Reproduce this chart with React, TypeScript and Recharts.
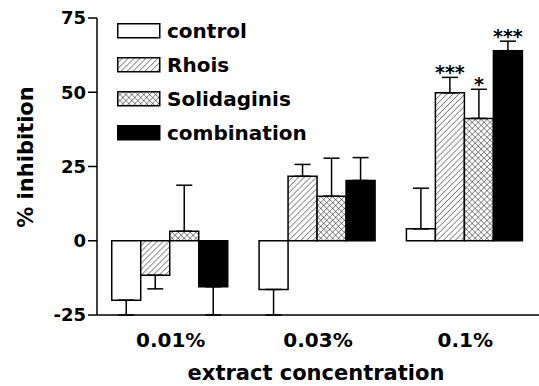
import React from "react";
import {
  BarChart,
  Bar,
  XAxis,
  YAxis,
  ErrorBar,
  LabelList,
  Label,
} from "recharts";

const categories = ["0.01%", "0.03%", "0.1%"];
const seriesNames = ["control", "Rhois", "Solidaginis", "combination"];

const control = [-20, -16.4, 4];
const controlErr = [5, 8.6, 13.7];
const rhois = [-11.6, 21.7, 49.8];
const rhoisErr = [4.6, 4, 5.2];
const solid = [3.2, 15, 41.2];
const solidErr = [15.5, 12.8, 9.8];
const combo = [-15.5, 20.3, 64];
const comboErr = [9.5, 7.7, 3.2];

const rhoisStars = ["", "", "***"];
const solidStars = ["", "", "*"];
const comboStars = ["", "", "***"];

const yTicks = [-25, 0, 25, 50, 75];

const FONT = "'DejaVu Sans', sans-serif";

// error bars only go away from zero
const oneSided = (v: number, e: number) => (v < 0 ? [e, 0] : [0, e]);

const data = categories.map((cat, i) => ({
  cat,
  control: control[i],
  controlErr: oneSided(control[i], controlErr[i]),
  rhois: rhois[i],
  rhoisErr: oneSided(rhois[i], rhoisErr[i]),
  rhoisStar: rhoisStars[i],
  solid: solid[i],
  solidErr: oneSided(solid[i], solidErr[i]),
  solidStar: solidStars[i],
  combo: combo[i],
  comboErr: oneSided(combo[i], comboErr[i]),
  comboStar: comboStars[i],
}));

const Patterns = ({ prefix }: { prefix: string }) => (
  <defs>
    <pattern
      id={`${prefix}-hatch`}
      patternUnits="userSpaceOnUse"
      width={4.2}
      height={10}
      patternTransform="rotate(45)"
    >
      <rect width={4.2} height={10} fill="#fff" />
      <line x1={0} y1={0} x2={0} y2={10} stroke="#222" strokeWidth={1} />
    </pattern>
    <pattern
      id={`${prefix}-cross`}
      patternUnits="userSpaceOnUse"
      width={4.2}
      height={4.2}
      patternTransform="rotate(45)"
    >
      <rect width={4.2} height={4.2} fill="#fff" />
      <line x1={0} y1={0} x2={0} y2={4.2} stroke="#222" strokeWidth={0.9} />
      <line x1={0} y1={0} x2={4.2} y2={0} stroke="#222" strokeWidth={0.9} />
    </pattern>
  </defs>
);

const fills = (prefix: string) => [
  "#fff",
  `url(#${prefix}-hatch)`,
  `url(#${prefix}-cross)`,
  "#000",
];

const makeStar = (values: number[], errs: number[]) => (props: any) => {
  const { x, y, width, height, value, index } = props;
  if (!value) return null;
  const v = values[index];
  const errPx = (errs[index] * height) / v;
  return (
    <text
      x={x + width / 2}
      y={y - errPx + 2}
      textAnchor="middle"
      fontFamily={FONT}
      fontWeight="bold"
      fontSize={19}
      fill="#000"
    >
      {value}
    </text>
  );
};

const XTick = (props: any) => {
  const { x, y, payload } = props;
  return (
    <text
      x={x}
      y={y + 24}
      textAnchor="middle"
      fontFamily={FONT}
      fontWeight="bold"
      fontSize={20}
      fill="#000"
    >
      {payload.value}
    </text>
  );
};

export default function App() {
  const barFills = fills("bar");
  const legendFills = fills("lg");

  return (
    <div style={{ position: "absolute", left: 0, top: 0, width: 539, height: 386, background: "#fff" }}>
      <BarChart
        width={539}
        height={386}
        data={data}
        margin={{ top: 18, right: 0, left: 0, bottom: 0 }}
        barGap={0}
        barCategoryGap="10%"
      >
        <Patterns prefix="bar" />
        <XAxis
          dataKey="cat"
          height={71}
          tickLine={false}
          axisLine={{ stroke: "#000", strokeWidth: 1.5 }}
          tick={<XTick />}
          interval={0}
        >
          <Label
            content={({ viewBox }: any) => (
              <text
                x={viewBox.x + viewBox.width / 2 - 2}
                y={viewBox.y + viewBox.height - 6}
                textAnchor="middle"
                fontFamily={FONT}
                fontWeight="bold"
                fontSize={21}
                fill="#000"
              >
                extract concentration
              </text>
            )}
          />
        </XAxis>
        <YAxis
          width={97}
          domain={[-25, 75]}
          ticks={yTicks}
          tickSize={9}
          axisLine={{ stroke: "#000", strokeWidth: 1.5 }}
          tickLine={{ stroke: "#000", strokeWidth: 1.5 }}
          tick={{ fill: "#000", fontSize: 18, fontWeight: "bold", fontFamily: FONT }}
        >
          <Label
            content={() => (
              <text
                transform="translate(33,157) rotate(-90)"
                textAnchor="middle"
                fontFamily={FONT}
                fontWeight="bold"
                fontSize={21}
                fill="#000"
              >
                % inhibition
              </text>
            )}
          />
        </YAxis>

        <Bar dataKey="control" fill={barFills[0]} stroke="#000" strokeWidth={1.5} isAnimationActive={false}>
          <ErrorBar dataKey="controlErr" width={8} stroke="#000" strokeWidth={1.5} direction="y" />
        </Bar>
        <Bar dataKey="rhois" fill={barFills[1]} stroke="#000" strokeWidth={1.5} isAnimationActive={false}>
          <ErrorBar dataKey="rhoisErr" width={8} stroke="#000" strokeWidth={1.5} direction="y" />
          <LabelList dataKey="rhoisStar" content={makeStar(rhois, rhoisErr)} />
        </Bar>
        <Bar dataKey="solid" fill={barFills[2]} stroke="#000" strokeWidth={1.5} isAnimationActive={false}>
          <ErrorBar dataKey="solidErr" width={8} stroke="#000" strokeWidth={1.5} direction="y" />
          <LabelList dataKey="solidStar" content={makeStar(solid, solidErr)} />
        </Bar>
        <Bar dataKey="combo" fill={barFills[3]} stroke="#000" strokeWidth={1.5} isAnimationActive={false}>
          <ErrorBar dataKey="comboErr" width={8} stroke="#000" strokeWidth={1.5} direction="y" />
          <LabelList dataKey="comboStar" content={makeStar(combo, comboErr)} />
        </Bar>
      </BarChart>

      {/* Legend */}
      <div style={{ position: "absolute", left: 117, top: 14, fontFamily: FONT, fontWeight: "bold", fontSize: 20 }}>
        {seriesNames.map((name, i) => (
          <div key={name} style={{ display: "flex", alignItems: "center", height: 34 }}>
            <svg width={44} height={16} style={{ display: "block" }}>
              <Patterns prefix="lg" />
              <rect x={0.75} y={0.75} width={42} height={14} fill={legendFills[i]} stroke="#000" strokeWidth={1.5} />
            </svg>
            <span style={{ marginLeft: 6, lineHeight: "20px" }}>{name}</span>
          </div>
        ))}
      </div>
    </div>
  );
}
